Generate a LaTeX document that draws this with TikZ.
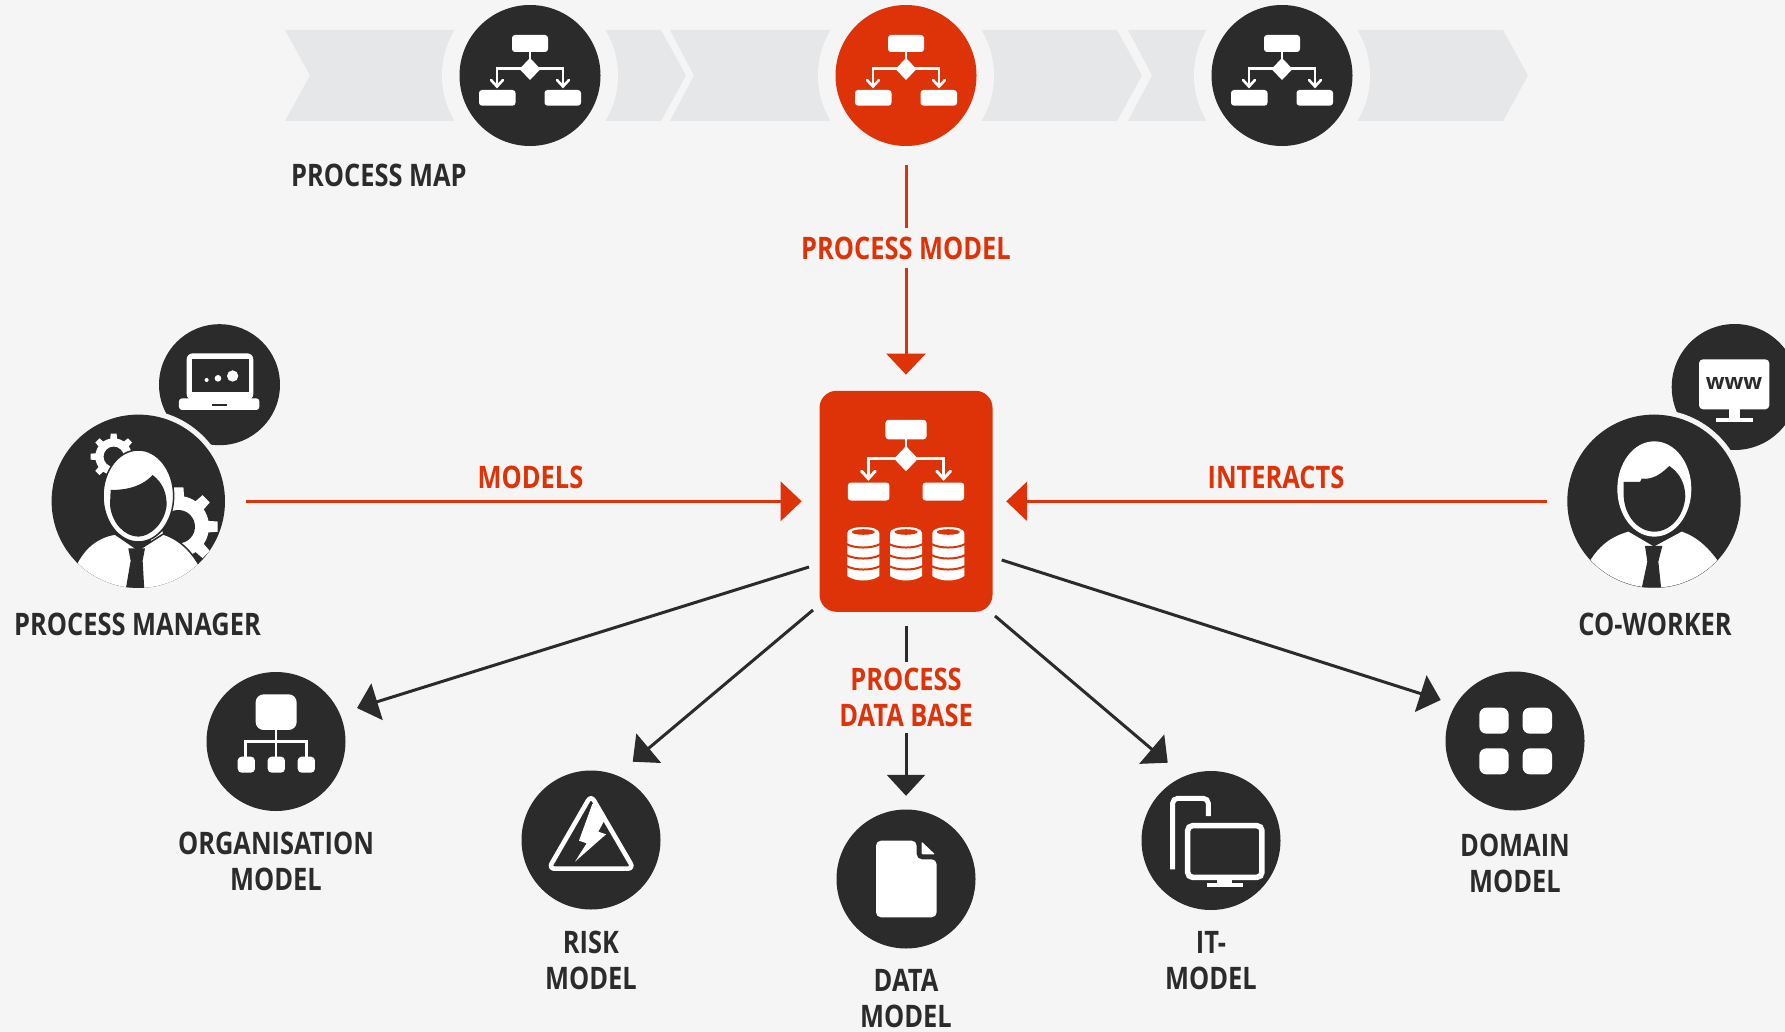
\documentclass[tikz,border=0pt]{standalone}
\usepackage{fontspec}
\setmainfont{Open Sans}[FakeStretch=0.82]
\newfontfamily\wfont{Open Sans}
\usetikzlibrary{arrows.meta}
\definecolor{bg}{HTML}{F5F5F5}
\definecolor{ink}{HTML}{2B2B2B}
\definecolor{hot}{HTML}{DE3308}
\definecolor{chev}{HTML}{E6E7E8}
\tikzset{
  disc/.style={circle,fill=ink,inner sep=0pt,minimum size=139pt},
  bigdisc/.style={circle,fill=ink,inner sep=0pt,minimum size=173.4pt},
  lbl/.style={font=\fontsize{31}{36}\selectfont\bfseries,align=center,inner sep=0pt,text=ink},
  redlbl/.style={lbl,text=hot},
  redline/.style={draw=hot,line width=3pt,-{Triangle[length=21pt,width=39pt]}},
  inkline/.style={draw=ink,line width=3pt,-{Triangle[length=21pt,width=38pt]}},
  chevron/.style={fill=chev},
  halo/.style={fill=bg},
}
\newcommand\flowicon[4]{%
\begin{scope}[shift={(#1,#2)},scale=#3]
\fill[#4,rounded corners=3pt] (-18,-40) rectangle (18,-23);
\fill[#4,rounded corners=3pt] (-51,15) rectangle (-14.5,30.7);
\fill[#4,rounded corners=3pt] (14.5,15) rectangle (51,30.7);
\fill[#4] (0,-17) -- (10.5,-6) -- (0,5) -- (-10.5,-6) -- cycle;
\draw[#4,line width=#3*2.6pt] (0,-23) -- (0,-12);
\draw[#4,line width=#3*2.6pt] (-33,11) -- (-33,-6.5) -- (33,-6.5) -- (33,11);
\draw[#4,line width=#3*2.6pt,line cap=round] (-39,5) -- (-33,11.5) -- (-27,5);
\draw[#4,line width=#3*2.6pt,line cap=round] (27,5) -- (33,11.5) -- (39,5);
\end{scope}}
\newcommand\dbicon[1]{%
\begin{scope}[shift={(#1,0)}]
\fill[white] (-16,533) .. controls (-16,525) and (16,525) .. (16,533) -- (16,576) .. controls (8,582) and (-8,582) .. (-16,576) -- cycle;
\fill[hot] (0,532) ellipse [x radius=11.5,y radius=2.8];
\foreach \yy in {544,555,566}{\draw[hot,line width=2pt] (-17,\yy) .. controls (-8,\yy+4.7) and (8,\yy+4.7) .. (17,\yy);}
\end{scope}}
\newcommand\mygear[5]{%
\foreach \a in {0,45,...,315}{\fill[white,rotate around={\a:(#1,#2)}] (#1-0.13*#3,#2-#3) -- (#1+0.13*#3,#2-#3) -- (#1+0.2*#3,#2) -- (#1-0.2*#3,#2) -- cycle;}
\fill[white] (#1,#2) circle[radius=#4];
\fill[ink] (#1,#2) circle[radius=#5];}
\begin{document}
\begin{tikzpicture}[x=1pt,y=-1pt]
\useasboundingbox (0,0) rectangle (1785,1032);
\clip (0,0) rectangle (1785,1032);
\fill[bg] (0,0) rectangle (1785,1032);
% chevrons
\fill[chevron] (285,30) -- (661,30) -- (686,75.5) -- (661,121) -- (285,121) -- (310,75.5) -- cycle;
\fill[chevron] (670,30) -- (1117,30) -- (1142,75.5) -- (1117,121) -- (670,121) -- (694,75.5) -- cycle;
\fill[chevron] (1128,30) -- (1503,30) -- (1528,75.5) -- (1503,121) -- (1128,121) -- (1152,75.5) -- cycle;
\foreach \xx in {530,906,1282}{\fill[halo] (\xx,75.5) circle[radius=88];}
% top discs
\node[disc,minimum size=141pt] (map1) at (530,75.5) {};
\node[disc,minimum size=141pt,fill=hot] (map2) at (906,75.5) {};
\node[disc,minimum size=141pt] (map3) at (1282,75.5) {};
\flowicon{530}{75}{1}{white}
\flowicon{906}{75}{1}{white}
\flowicon{1282}{75}{1}{white}
\node[lbl,anchor=west] (maplabel) at (291,175) {PROCESS MAP};
% centre box
\node[fill=hot,rounded corners=17pt,inner sep=0pt,minimum width=173pt,minimum height=221pt] (box) at (906,501.3) {};
\flowicon{906}{465.5}{1.14}{white}
\dbicon{863.3}\dbicon{906}\dbicon{948.3}
% people
\node[disc,minimum size=121pt] (laptop) at (219.5,384.7) {};
\node[disc,minimum size=126pt] (www) at (1734.7,387) {};
\fill[bg] (138.3,501.3) circle[radius=92];
\fill[bg] (1654,501.3) circle[radius=92];
\node[bigdisc] (pm) at (138.3,501.3) {};
\node[bigdisc] (cw) at (1654,501.3) {};
% laptop icon
\begin{scope}[shift={(0,310)},x=.3333pt,y=-.3333pt]
\fill[white,rounded corners=6pt] (560,130) rectangle (760,270);
\fill[ink] (576,146) rectangle (746,246);
\fill[white,rounded corners=3pt] (537,265) rectangle (778,300);
\fill[ink] (637,283) rectangle (680,288);
\fill[white] (620,210) circle[radius=6];
\fill[white] (654,205) circle[radius=10];
\fill[white] (698,198) circle[radius=17];
\end{scope}
% manager
\begin{scope}[shift={(0,310)},x=.3333pt,y=-.3333pt]
\clip (415,574) circle[radius=260];
\mygear{341}{440}{69}{55}{30}
\mygear{535}{650}{118}{92}{50}
\draw[ink,line width=1.5pt,fill=white] (225,770) .. controls (255,705) and (300,680) .. (345,672) -- (415,720) -- (490,672) .. controls (530,685) and (570,715) .. (600,770) -- (600,870) -- (225,870) -- cycle;
\draw[ink,line width=1.5pt,fill=white] (415,558) ellipse [x radius=106,y radius=138];
\fill[ink] (332,540) .. controls (390,540) and (430,525) .. (458,495) .. controls (490,520) and (500,550) .. (500,585) .. controls (495,640) and (450,680) .. (415,680) .. controls (375,680) and (335,640) .. (330,585) -- cycle;
\fill[ink] (385,715) -- (435,715) -- (428,752) -- (433,840) -- (377,840) -- (392,752) -- cycle;
\end{scope}
% monitor icon
\begin{scope}[shift={(1530,310)},x=.3333pt,y=-.3333pt]
\fill[white,rounded corners=4pt] (507,148) rectangle (718,298);
\fill[white] (598,298) rectangle (630,327);
\fill[white] (557,325) rectangle (668,337);
\node[font=\wfont\bfseries\fontsize{22}{22}\selectfont,text=ink,inner sep=0pt] (wwwtext) at (612,220) {www};
\end{scope}
% co-worker
\begin{scope}[shift={(1530,310)},x=.3333pt,y=-.3333pt]
\clip (372,573) circle[radius=260];
\fill[white] (170,770) .. controls (205,705) and (245,680) .. (295,665) -- (372,710) -- (455,665) .. controls (500,680) and (540,715) .. (575,770) -- (575,870) -- (170,870) -- cycle;
\fill[white] (373,537) ellipse [x radius=111,y radius=143];
\fill[ink] (281,516) -- (330,516) -- (335,506) .. controls (370,510) and (395,490) .. (418,468) .. controls (450,490) and (465,520) .. (466,560) .. controls (462,620) and (420,665) .. (373,665) .. controls (325,665) and (285,620) .. (281,560) -- cycle;
\fill[ink] (345,708) -- (397,708) -- (385,755) -- (394,840) -- (334,840) -- (352,755) -- cycle;
\end{scope}
% lower discs
\node[disc] (org) at (276,741.5) {};
\node[disc] (risk) at (591,840) {};
\node[disc] (data) at (906,879) {};
\node[disc] (it) at (1211,840.5) {};
\node[disc] (domain) at (1515,741) {};
% org icon
\begin{scope}[shift={(190,660)},x=.3333pt,y=-.3333pt]
\fill[white,rounded corners=8pt] (197,103) rectangle (320,210);
\draw[white,line width=2.5pt] (258,210) -- (258,300) (167,300) -- (167,245) -- (350,245) -- (350,300);
\foreach \xx in {143,233,323}{\fill[white,rounded corners=4pt] (\xx,290) rectangle ++(52,48);}
\end{scope}
% warning icon
\begin{scope}[shift={(530,780)},x=.3333pt,y=-.3333pt]
\draw[white,line width=4.6pt,fill=ink,rounded corners=6pt,line join=round] (183,46) -- (311,266) -- (56,266) -- cycle;
\fill[white] (187,72) -- (200,68) -- (225,118) -- (205,155) -- (228,163) -- (135,245) -- (170,190) -- (147,182) -- cycle;
\end{scope}
% document icon
\begin{scope}[shift={(820,760)},x=.3333pt,y=-.3333pt]
\fill[white,rounded corners=5pt] (168,242) -- (290,242) -- (290,298) -- (350,298) -- (350,472) -- (168,472) -- cycle;
\fill[white,rounded corners=1pt] (305,245) -- (345,283) -- (305,283) -- cycle;
\end{scope}
% IT icon
\begin{scope}[shift={(820,760)},x=.3333pt,y=-.3333pt]
\draw[white,line width=5pt,rounded corners=5pt] (1058,328) -- (1058,115) -- (1165,115) -- (1165,168);
\draw[white,line width=5.5pt,fill=ink,rounded corners=5pt] (1103,197) rectangle (1326,352);
\fill[white] (1192,355) rectangle (1235,372);
\fill[white] (1160,368) rectangle (1270,380);
\end{scope}
% domain icon
\begin{scope}[shift={(1440,670)},x=.3333pt,y=-.3333pt]
\foreach \xx in {118,248}{\foreach \yy in {113,235}{\fill[white,rounded corners=7pt] (\xx,\yy) rectangle ++(88,78);}}
\end{scope}
% connectors with labels
\draw[redline,shorten <=18.5pt,shorten >=16pt] (map2) -- (box);
\node[redlbl,fill=bg,minimum height=40pt] (pmodel) at (906,248) {PROCESS MODEL};
\draw[redline,shorten <=20.7pt,shorten >=17.6pt] (pm) -- (box);
\draw[redline,shorten <=20.6pt,shorten >=13.5pt] (cw) -- (box);
\node[redlbl] (models) at (530.5,477) {MODELS};
\node[redlbl] (interacts) at (1276,477) {INTERACTS};
\draw[inkline,shorten >=84.9pt] ([xshift=-97pt,yshift=-65.7pt]box.center) -- ([yshift=8.2pt]org.center);
\draw[inkline,shorten >=54.5pt] ([xshift=-93pt,yshift=-108.7pt]box.center) -- ([yshift=43.2pt]risk.center);
\draw[inkline,shorten >=56.8pt] ([xshift=89pt,yshift=-114.7pt]box.center) -- ([yshift=41pt]it.center);
\draw[inkline,shorten >=78pt] ([xshift=95.7pt,yshift=-58.7pt]box.center) -- ([yshift=17.3pt]domain.center);
\draw[inkline,shorten <=14pt,shorten >=13.5pt] (box) -- (data);
\node[redlbl,fill=bg,minimum height=71pt] (dblabel) at (906,697.5) {PROCESS\\DATA BASE};
% labels
\node[lbl] (pmlabel) at (137.5,624.5) {PROCESS MANAGER};
\node[lbl] (cwlabel) at (1655,624.5) {CO-WORKER};
\node[lbl] (orglabel) at (276,861) {ORGANISATION\\MODEL};
\node[lbl] (risklabel) at (591,960.5) {RISK\\MODEL};
\node[lbl] (datalabel) at (906,998.5) {DATA\\MODEL};
\node[lbl] (itlabel) at (1211,960.5) {IT-\\MODEL};
\node[lbl] (domainlabel) at (1515,863.5) {DOMAIN\\MODEL};
\end{tikzpicture}
\end{document}
